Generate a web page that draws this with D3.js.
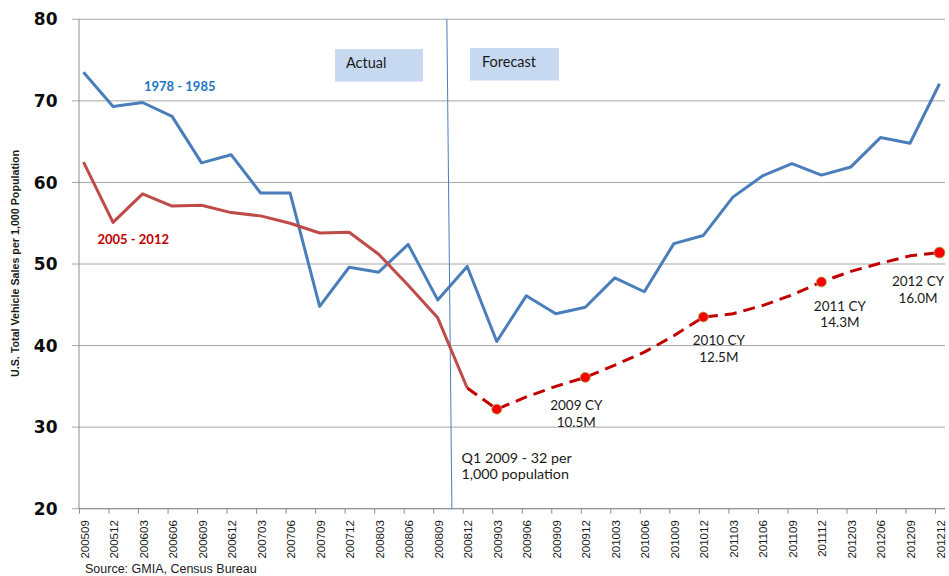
<!DOCTYPE html>
<html>

<head>
    <meta charset="utf-8">
    <title>vehicle sales per 1,000</title>
    <script src="https://d3js.org/d3.v7.min.js"></script>
    <style>
        body { margin: 0; background: #fff; }
        .grid line { stroke: #a6a6a6; stroke-width: 1px; }
        .axis path, .axis line { stroke: #8c8c8c; }
        .ylab { font-family: "DejaVu Sans", sans-serif; font-weight: bold; font-size: 17px; fill: #0d0d0d; }
        .xlab { font-family: "Liberation Sans", Arial, sans-serif; font-size: 11.5px; fill: #1a1a1a; }
        .note { font-family: Lato, "Open Sans", sans-serif; font-size: 13.5px; fill: #1a1a1a; }
        path.line { fill: none; stroke-width: 3px; stroke-linejoin: round; }
    </style>
</head>

<body>
    <script>
        // quarterly periods on the x axis
        const quarters = ["200509", "200512", "200603", "200606", "200609", "200612", "200703", "200706",
            "200709", "200712", "200803", "200806", "200809", "200812", "200903", "200906", "200909",
            "200912", "201003", "201006", "201009", "201012", "201103", "201106", "201109", "201112",
            "201203", "201206", "201209", "201212"];

        // 1978 - 1985 cycle, shifted onto the same quarters
        const sales7885 = [73.5, 69.3, 69.8, 68.1, 62.4, 63.4, 58.7, 58.7, 44.8, 49.6, 49.0, 52.4,
            45.6, 49.7, 40.5, 46.1, 43.9, 44.7, 48.3, 46.6, 52.5, 53.5, 58.2, 60.8, 62.3, 60.9,
            61.9, 65.5, 64.8, 72.1];

        // 2005 - 2012: actual through 200812, forecast after
        const sales0512 = [62.5, 55.1, 58.6, 57.1, 57.2, 56.3, 55.9, 55.0, 53.8, 53.9, 51.2, 47.4,
            43.4, 34.8, 32.2, 33.7, 35.0, 36.1, 37.6, 39.2, 41.2, 43.5, 43.9, 44.9, 46.2, 47.8,
            49.1, 50.1, 51.0, 51.4];
        const lastActual = "200812";

        // calendar-year markers on the forecast
        const cyQuarters = ["200903", "200912", "201012", "201112", "201212"];
        const cyNames = ["", "2009 CY", "2010 CY", "2011 CY", "2012 CY"];
        const cyTotals = ["", "10.5M", "12.5M", "14.3M", "16.0M"];

        const yTicks = [20, 30, 40, 50, 60, 70, 80];

        const width = 949, height = 576;
        const mLeft = 79, mRight = 945, mTop = 19.3, mBottom = 508.7;

        const svg = d3.select("body").append("svg")
            .attr("width", width)
            .attr("height", height);

        const x = d3.scalePoint().domain(quarters).range([83.5, 939.5]);
        const y = d3.scaleLinear().domain([20, 80]).range([mBottom, mTop]);
        const step = x.step();

        // gridlines + y ticks
        svg.append("g").attr("class", "grid")
            .selectAll("line")
            .data(yTicks)
            .join("line")
            .attr("x1", mLeft - 7).attr("x2", mRight)
            .attr("y1", d => y(d)).attr("y2", d => y(d));

        svg.append("g")
            .selectAll("text")
            .data(yTicks)
            .join("text")
            .attr("class", "ylab")
            .attr("x", 57.5)
            .attr("y", d => y(d))
            .attr("dy", "0.36em")
            .attr("text-anchor", "end")
            .text(d => d);

        svg.append("line")
            .attr("x1", mLeft).attr("x2", mLeft)
            .attr("y1", mTop).attr("y2", mBottom)
            .attr("stroke", "#8c8c8c");

        // x axis
        let x_axis = d3.axisBottom(x).tickSize(5).tickSizeOuter(0);
        let gx = svg.append("g")
            .attr("class", "axis")
            .attr("transform", "translate(0," + mBottom + ")")
            .call(x_axis);
        gx.select(".domain").remove();
        gx.selectAll(".tick line").attr("x1", -4.5).attr("x2", -4.5);
        gx.selectAll(".tick text")
            .attr("class", "xlab")
            .attr("transform", "rotate(-90)")
            .attr("x", -11.5)
            .attr("y", 0.5)
            .attr("dy", "0.35em")
            .attr("text-anchor", "end");
        svg.append("line")
            .attr("x1", mLeft).attr("x2", mRight)
            .attr("y1", mBottom).attr("y2", mBottom)
            .attr("stroke", "#8c8c8c");

        // y axis title
        svg.append("text")
            .attr("transform", "translate(15," + 263.5 + ") rotate(-90)")
            .attr("text-anchor", "middle")
            .attr("dy", "0.35em")
            .attr("textLength", 227)
            .attr("lengthAdjust", "spacingAndGlyphs")
            .style("font-family", "'Liberation Sans Narrow', 'Liberation Sans', sans-serif")
            .style("font-weight", "bold")
            .style("font-size", "10.5px")
            .style("fill", "#1a1a1a")
            .text("U.S. Total Vehicle Sales per 1,000 Population");

        // actual / forecast boxes and divider
        const i0 = quarters.indexOf("200809");
        svg.append("line")
            .attr("x1", x(quarters[i0]) + step * 0.31).attr("y1", mTop)
            .attr("x2", x(quarters[i0]) + step * 0.48).attr("y2", mBottom)
            .attr("stroke", "#4a7ebb").attr("stroke-width", 1);

        const boxes = [
            { t: "Actual", x0: 335, x1: 423, y0: 49, y1: 81.5, tx: 346 },
            { t: "Forecast", x0: 470, x1: 559, y0: 48, y1: 80.5, tx: 482 }
        ];
        svg.selectAll("rect.box").data(boxes).join("rect")
            .attr("class", "box")
            .attr("x", d => d.x0).attr("y", d => d.y0)
            .attr("width", d => d.x1 - d.x0).attr("height", d => d.y1 - d.y0)
            .attr("fill", "#c6d9f1");
        svg.selectAll("text.boxt").data(boxes).join("text")
            .attr("class", "note boxt")
            .attr("x", d => d.tx).attr("y", d => (d.y0 + d.y1) / 2 - 2)
            .attr("dy", "0.35em")
            .style("font-size", "14.5px")
            .text(d => d.t);

        // lines
        const line = d3.line()
            .x(d => x(d.q))
            .y(d => y(d.v));

        const blue = quarters.map((q, i) => ({ q: q, v: sales7885[i] }));
        const red = quarters.map((q, i) => ({ q: q, v: sales0512[i] }));
        const cut = quarters.indexOf(lastActual);

        svg.append("path").attr("class", "line")
            .attr("d", line(blue)).attr("stroke", "#4a7ebb");
        svg.append("path").attr("class", "line")
            .attr("d", line(red.slice(0, cut + 1))).attr("stroke", "#be4b48");
        svg.append("path").attr("class", "line")
            .attr("d", line(red.slice(cut)))
            .attr("stroke", "#c00000")
            .attr("stroke-dasharray", "12,7");

        // markers
        svg.selectAll("circle")
            .data(cyQuarters)
            .join("circle")
            .attr("cx", d => x(d))
            .attr("cy", d => y(sales0512[quarters.indexOf(d)]))
            .attr("r", (d, i) => i == cyQuarters.length - 1 ? 5.5 : 5)
            .attr("fill", "#ff0000")
            .attr("stroke", "#9bbb59")
            .attr("stroke-width", 0.8);

        // series labels
        svg.append("text").attr("x", 144).attr("y", 86.7).attr("dy", "0.35em")
            .style("font-family", "Lato, sans-serif").style("font-weight", "bold")
            .style("font-size", "13px").style("fill", "#1f74c4")
            .text("1978 - 1985");
        svg.append("text").attr("x", 97.5).attr("y", 239.5).attr("dy", "0.35em")
            .style("font-family", "Lato, sans-serif").style("font-weight", "bold")
            .style("font-size", "13px").style("fill", "#c00000")
            .text("2005 - 2012");

        // CY annotations, placed below and beside their marker
        const cyDx = [0, -9, 15.5, 18.5, -21.5];
        const cyDy = [0, 28, 23.5, 24, 29];
        cyQuarters.forEach((q, i) => {
            if (!cyNames[i]) return;
            const cx = x(q) + cyDx[i];
            const cy = y(sales0512[quarters.indexOf(q)]) + cyDy[i];
            const t = svg.append("text").attr("class", "note")
                .attr("text-anchor", "middle");
            t.append("tspan").attr("x", cx).attr("y", cy)
                .attr("dy", "0.35em").text(cyNames[i]);
            t.append("tspan").attr("x", cx).attr("y", cy + 16.5)
                .attr("dy", "0.35em").text(cyTotals[i]);
        });

        // Q1 2009 note
        const q1 = svg.append("text").attr("class", "note").style("font-size", "14.3px");
        q1.append("tspan").attr("x", 461.5).attr("y", 457.7).attr("dy", "0.35em").text("Q1 2009 - 32 per");
        q1.append("tspan").attr("x", 461.5).attr("y", 474.3).attr("dy", "0.35em").text("1,000 population");

        // source
        svg.append("text")
            .attr("x", 85).attr("y", 568.5).attr("dy", "0.35em")
            .style("font-family", "'Liberation Sans', Arial, sans-serif")
            .style("font-size", "12.5px").style("fill", "#1a1a1a")
            .text("Source: GMIA, Census Bureau");
    </script>
</body>

</html>
